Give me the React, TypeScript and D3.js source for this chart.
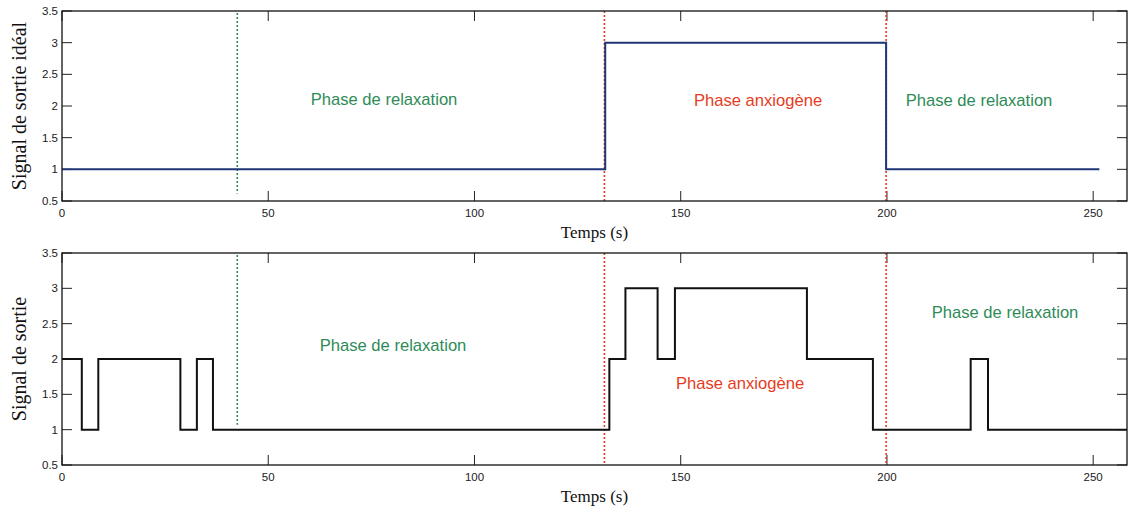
import React from 'react';
import * as d3 from 'd3';

// Ideal output signal (step), x = time (s)
const idealSteps: [number, number][] = [
  [0, 1], [131.7, 3], [199.8, 1], [251.5, 1],
];

// Measured output signal (step)
const measuredSteps: [number, number][] = [
  [0, 2], [4.8, 1], [8.8, 2], [28.7, 1], [32.7, 2], [36.6, 1],
  [132.7, 2], [136.6, 3], [144.4, 2], [148.6, 3], [180.6, 2],
  [196.6, 1], [220.3, 2], [224.5, 1], [258.2, 1],
];

const xTicks = [0, 50, 100, 150, 200, 250];
const yTicks = [0.5, 1, 1.5, 2, 2.5, 3, 3.5];

const relaxStart = 42.5;
const phaseBounds = [131.5, 199.8];

interface PanelProps {
  top: number;
  bottom: number;
  ylabel: string;
  steps: [number, number][];
  lineColor: string;
  greenFrom: number;
  labels: { text: string; x: number; y: number; color: string }[];
}

const LEFT = 62;
const RIGHT = 1127;
const GREEN = '#2e8b57';
const RED = '#e63c1e';

const x = d3.scaleLinear().domain([0, 258.2]).range([LEFT, RIGHT]);

const Panel: React.FC<PanelProps> = ({ top, bottom, ylabel, steps, lineColor, greenFrom, labels }) => {
  const y = d3.scaleLinear().domain([0.5, 3.5]).range([bottom, top]);
  const line = d3.line<[number, number]>()
    .x(d => x(d[0]))
    .y(d => y(d[1]))
    .curve(d3.curveStepAfter);
  const tickLen = 10;
  const tickFont = 'Liberation Sans, Arial, sans-serif';

  return (
    <g>
      {/* ticks inside the box, on all four sides */}
      {xTicks.map(t => (
        <g key={`x${t}`}>
          <line x1={x(t)} x2={x(t)} y1={bottom} y2={bottom - tickLen} stroke="#222" strokeWidth={1} />
          <line x1={x(t)} x2={x(t)} y1={top} y2={top + tickLen} stroke="#222" strokeWidth={1} />
          <text x={x(t)} y={bottom + 16} textAnchor="middle" fontSize={11.5} fontFamily={tickFont} fill="#1a1a1a">{t}</text>
        </g>
      ))}
      {yTicks.map(t => (
        <g key={`y${t}`}>
          <line x1={LEFT} x2={LEFT + tickLen} y1={y(t)} y2={y(t)} stroke="#222" strokeWidth={1} />
          <line x1={RIGHT} x2={RIGHT - tickLen} y1={y(t)} y2={y(t)} stroke="#222" strokeWidth={1} />
          <text x={LEFT - 4} y={y(t) + 4} textAnchor="end" fontSize={11.5} fontFamily={tickFont} fill="#1a1a1a">{t}</text>
        </g>
      ))}

      <line x1={x(relaxStart)} x2={x(relaxStart)} y1={top + 2} y2={y(greenFrom)}
        stroke={GREEN} strokeWidth={1.6} strokeDasharray="2,2" />
      {phaseBounds.map(b => (
        <line key={b} x1={x(b)} x2={x(b)} y1={top} y2={bottom}
          stroke={RED} strokeWidth={1.6} strokeDasharray="2,2" />
      ))}

      <path d={line(steps) || undefined} fill="none" stroke={lineColor} strokeWidth={2} />

      {labels.map((l, i) => (
        <text key={i} x={l.x} y={l.y} textAnchor="middle" dominantBaseline="central"
          fontSize={16.6} fontFamily={tickFont} fill={l.color}>{l.text}</text>
      ))}

      <rect x={LEFT} y={top} width={RIGHT - LEFT} height={bottom - top} fill="none" stroke="#111" strokeWidth={1.3} />

      <text x={(LEFT + RIGHT) / 2} y={bottom + 37} textAnchor="middle" fontSize={17}
        fontFamily="Liberation Serif, Times New Roman, serif" fill="#111">Temps (s)</text>
      <text transform={`translate(26,${(top + bottom) / 2}) rotate(-90)`} textAnchor="middle"
        fontSize={20} fontFamily="Liberation Serif, Times New Roman, serif" fill="#111">{ylabel}</text>
    </g>
  );
};

const App: React.FC = () => {
  return (
    <svg width={1128} height={506} style={{ position: 'absolute', left: 0, top: 0, background: '#fff' }}>
      <Panel
        top={11}
        bottom={201}
        ylabel="Signal de sortie idéal"
        steps={idealSteps}
        lineColor="#1f3577"
        greenFrom={0.62}
        labels={[
          { text: 'Phase de relaxation', x: 384, y: 99, color: GREEN },
          { text: 'Phase anxiogène', x: 758, y: 100, color: RED },
          { text: 'Phase de relaxation', x: 979, y: 100, color: GREEN },
        ]}
      />
      <Panel
        top={253}
        bottom={465}
        ylabel="Signal de sortie"
        steps={measuredSteps}
        lineColor="#111"
        greenFrom={1.07}
        labels={[
          { text: 'Phase de relaxation', x: 393, y: 345, color: GREEN },
          { text: 'Phase anxiogène', x: 740, y: 383, color: RED },
          { text: 'Phase de relaxation', x: 1005, y: 312, color: GREEN },
        ]}
      />
    </svg>
  );
};

export default App;
